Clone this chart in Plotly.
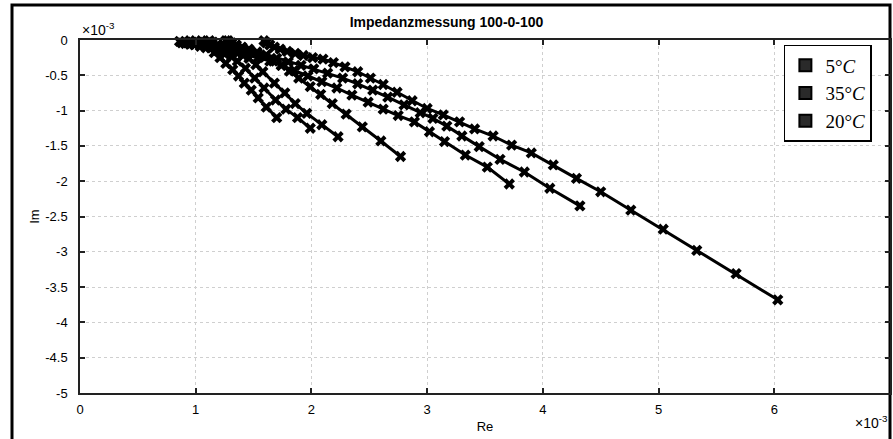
import plotly.graph_objects as go

# impedance curves, values in units of 1e-3
re_a = [0.86, 0.88, 0.91, 0.95, 0.99, 1.04, 1.09, 1.16, 1.21, 1.26, 1.32, 1.37, 1.42, 1.48, 1.54, 1.61, 1.70]
im_a = [-0.02, -0.04, -0.05, -0.06, -0.07, -0.09, -0.11, -0.18, -0.25, -0.33, -0.42, -0.51, -0.61, -0.71, -0.82, -0.95, -1.10]

re_b = [0.95, 0.97, 1.00, 1.04, 1.08, 1.13, 1.19, 1.25, 1.31, 1.36, 1.43, 1.51, 1.59, 1.69, 1.78, 1.88, 1.99]
im_b = [-0.01, -0.03, -0.05, -0.07, -0.09, -0.11, -0.15, -0.20, -0.24, -0.30, -0.40, -0.54, -0.68, -0.85, -0.98, -1.10, -1.25]

re_c = [1.05, 1.07, 1.10, 1.14, 1.19, 1.24, 1.30, 1.36, 1.41, 1.46, 1.52, 1.58, 1.68, 1.77, 1.86, 1.96, 2.09, 2.23]
im_c = [-0.01, -0.03, -0.05, -0.07, -0.10, -0.13, -0.16, -0.19, -0.22, -0.26, -0.35, -0.45, -0.61, -0.75, -0.90, -1.04, -1.20, -1.37]

re_d = [1.26, 1.28, 1.31, 1.35, 1.40, 1.46, 1.53, 1.60, 1.67, 1.74, 1.81, 1.89, 1.99, 2.08, 2.18, 2.30, 2.44, 2.60, 2.77]
im_d = [-0.01, -0.03, -0.05, -0.08, -0.11, -0.15, -0.19, -0.24, -0.30, -0.36, -0.44, -0.54, -0.66, -0.77, -0.90, -1.05, -1.23, -1.43, -1.65]

re_e = [1.12, 1.15, 1.19, 1.24, 1.30, 1.37, 1.45, 1.54, 1.64, 1.74, 1.85, 1.97, 2.09, 2.22, 2.35, 2.49,
        2.62, 2.75, 2.89, 3.02, 3.15, 3.33, 3.52, 3.71]
im_e = [-0.01, -0.03, -0.06, -0.09, -0.12, -0.16, -0.20, -0.25, -0.30, -0.36, -0.43, -0.51, -0.59, -0.68,
        -0.78, -0.88, -0.98, -1.07, -1.16, -1.30, -1.44, -1.63, -1.80, -2.04]

re_f = [1.28, 1.31, 1.35, 1.40, 1.46, 1.53, 1.61, 1.70, 1.80, 1.91, 2.02, 2.14, 2.27, 2.40, 2.53, 2.66,
        2.80, 2.94, 3.05, 3.17, 3.30, 3.45, 3.63, 3.84, 4.06, 4.32]
im_f = [-0.01, -0.04, -0.07, -0.10, -0.13, -0.17, -0.21, -0.26, -0.31, -0.36, -0.41, -0.47, -0.54, -0.62,
        -0.71, -0.81, -0.92, -1.03, -1.11, -1.22, -1.36, -1.51, -1.69, -1.87, -2.10, -2.35]

re_g = [1.59, 1.61, 1.64, 1.68, 1.73, 1.79, 1.86, 1.93, 2.01, 2.10, 2.19, 2.29, 2.40, 2.51, 2.62, 2.74,
        2.87, 3.00, 3.14, 3.28, 3.41, 3.57, 3.73, 3.90, 4.09, 4.29, 4.50, 4.76, 5.04, 5.33, 5.67, 6.03]
im_g = [-0.01, -0.04, -0.07, -0.10, -0.13, -0.16, -0.19, -0.22, -0.25, -0.27, -0.32, -0.38, -0.45, -0.54,
        -0.63, -0.74, -0.86, -0.97, -1.06, -1.16, -1.26, -1.36, -1.49, -1.60, -1.77, -1.96, -2.15, -2.41,
        -2.68, -2.98, -3.31, -3.68]

curves = [(re_a, im_a), (re_b, im_b), (re_c, im_c), (re_d, im_d),
          (re_e, im_e), (re_f, im_f), (re_g, im_g)]

legend_labels = ["5°<i>C</i>", "35°<i>C</i>", "20°<i>C</i>"]

x_ticks = [0, 1, 2, 3, 4, 5, 6, 7]
y_ticks = [0, -0.5, -1, -1.5, -2, -2.5, -3, -3.5, -4, -4.5, -5]
y_tick_text = ["0", "-0.5", "-1", "-1.5", "-2", "-2.5", "-3", "-3.5", "-4", "-4.5", "-5"]

FONT = "Liberation Sans, Arial"

fig = go.Figure()

for re, im in curves:
    fig.add_trace(go.Scatter(
        x=re, y=im, mode="lines+markers",
        line=dict(color="black", width=3),
        marker=dict(symbol="x", size=10, color="black"),
        cliponaxis=False, showlegend=False, hoverinfo="skip",
    ))

# legend entries only (the scan shows square patches)
for label in legend_labels:
    fig.add_trace(go.Scatter(
        x=[None], y=[None], mode="markers", name=label,
        marker=dict(symbol="square", size=15, color="#2a2a2a",
                    line=dict(color="black", width=1)),
    ))

axis_common = dict(
    showline=True, linecolor="#222", linewidth=1.5, mirror="ticks",
    ticks="inside", ticklen=5, tickcolor="#222", tickwidth=1.5,
    showgrid=True, gridcolor="#cfcfcf", griddash="dot", gridwidth=1,
    zeroline=False, automargin=False,
    tickfont=dict(family=FONT, size=13, color="black"),
)

fig.update_xaxes(range=[0, 7], tickvals=x_ticks, ticklabelstandoff=4,
                 title=dict(text="Re", standoff=6, font=dict(family=FONT, size=13, color="black")),
                 **axis_common)
fig.update_yaxes(range=[-5, 0], tickvals=y_ticks, ticktext=y_tick_text, ticklabelstandoff=8,
                 title=dict(text="Im", standoff=3, font=dict(family=FONT, size=13, color="black")),
                 **axis_common)

fig.update_layout(
    width=893, height=439,
    margin=dict(l=80, r=3, t=40, b=46),
    paper_bgcolor="white", plot_bgcolor="white",
    title=dict(text="<b>Impedanzmessung 100-0-100</b>", x=0.5, xanchor="center",
               y=1 - 22 / 439, yanchor="middle",
               font=dict(family=FONT, size=14, color="black")),
    legend=dict(x=0.869, y=0.986, xanchor="left", yanchor="top",
                bgcolor="white", bordercolor="black", borderwidth=1.5,
                font=dict(family="Liberation Serif, DejaVu Serif", size=19, color="black"),
                itemsizing="constant", tracegroupgap=2, entrywidth=70),
    showlegend=True,
)

# exponent labels like matlab
fig.add_annotation(text="×10<sup>-3</sup>", xref="paper", yref="paper", x=0, y=1,
                   xanchor="left", yanchor="bottom", showarrow=False,
                   font=dict(family=FONT, size=14, color="black"))
fig.add_annotation(text="×10<sup>-3</sup>", xref="paper", yref="paper", x=1, y=-0.05,
                   xanchor="right", yanchor="top", showarrow=False,
                   font=dict(family=FONT, size=14, color="black"))

# frame of the scanned figure
fig.add_shape(type="rect", xref="paper", yref="paper",
              x0=-68 / 810, x1=1.0, y0=-0.3, y1=1 + 35 / 353,
              line=dict(color="black", width=3), layer="below")

# the page body has a default 8px margin, drop it so the figure sits at 0,0
fig.write_html("out.html", config={"displayModeBar": False},
               post_script="document.body.style.margin='0px';")
